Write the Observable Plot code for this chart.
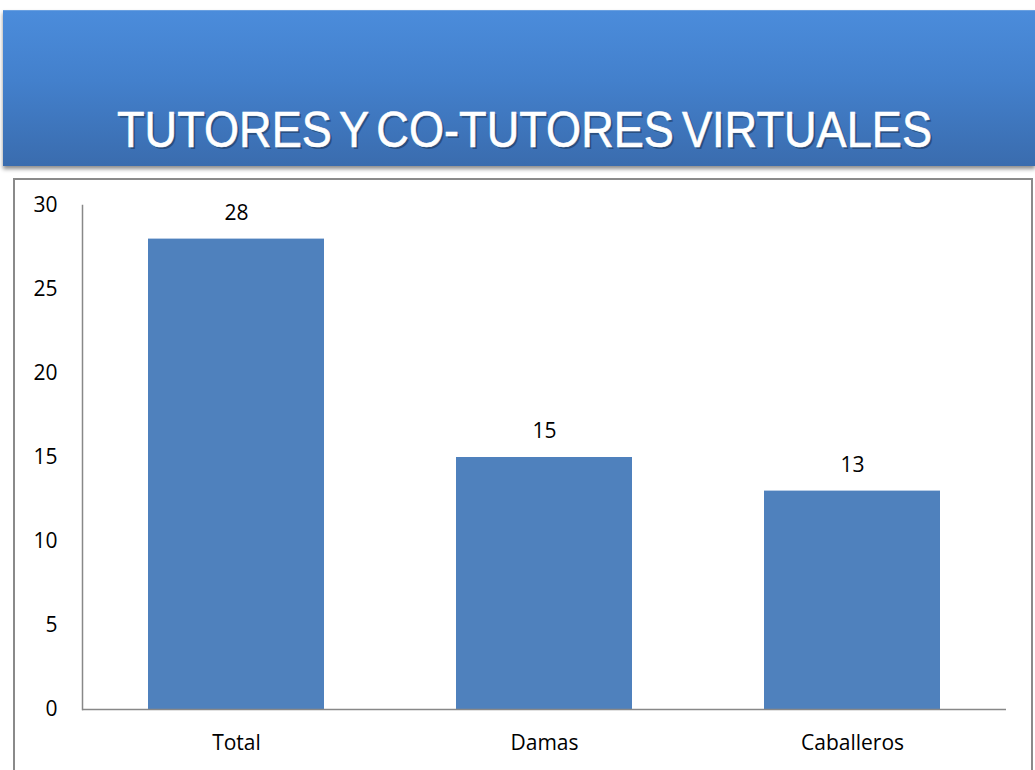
<!DOCTYPE html>
<html>
<head>
<meta charset="utf-8">
<script src="https://cdn.jsdelivr.net/npm/d3@7"></script>
<script src="https://cdn.jsdelivr.net/npm/@observablehq/plot@0.6"></script>
<style>
  html, body { margin: 0; padding: 0; background: #fff; width: 1035px; height: 770px; overflow: hidden; }
  #banner { position: absolute; left: 3px; top: 10px; width: 1032px; height: 155px;
    background: linear-gradient(to bottom, #4b8cdb 0%, #4380cc 45%, #3a6cae 100%);
    box-shadow: 0 3px 4px rgba(0,0,0,0.45); border-top: 1px solid #6aa0e0; }
  #banner svg { position: absolute; left: 0; top: 0; }
  #panel { position: absolute; left: 13px; top: 178px; width: 1020px; height: 600px;
    border: 2px solid #8a8a8a; box-sizing: border-box; background: #fff; }
  #chart { position: absolute; left: 0; top: 178px; }
</style>
</head>
<body>
<div id="banner">
  <svg width="1032" height="155">
    <text x="114" y="136" font-family="'Liberation Sans Narrow', 'Liberation Sans', Arial, sans-serif"
      font-size="50" word-spacing="-5" fill="#000" opacity="0.3" textLength="815" lengthAdjust="spacingAndGlyphs" transform="translate(2,2)">TUTORES Y CO-TUTORES VIRTUALES</text>
    <text x="114" y="136" font-family="'Liberation Sans Narrow', 'Liberation Sans', Arial, sans-serif"
      font-size="50" word-spacing="-5" fill="#fff" stroke="#fff" stroke-width="0.6" textLength="815" lengthAdjust="spacingAndGlyphs">TUTORES Y CO-TUTORES VIRTUALES</text>
  </svg>
</div>
<div id="panel"></div>
<div id="chart"></div>
<script>
const categories = ["Total", "Damas", "Caballeros"];
const values = [28, 15, 13];
const yTicks = [0, 5, 10, 15, 20, 25, 30];

const data = categories.map((c, i) => ({category: c, value: values[i]}));

const plot = Plot.plot({
  width: 1035,
  height: 592,
  marginLeft: 82,
  marginRight: 29,
  marginTop: 27,
  marginBottom: 61,
  style: {background: "transparent", fontFamily: "'Open Sans', 'Noto Sans', sans-serif", fontSize: "21px", color: "#000"},
  x: {domain: categories, paddingInner: 0.4286, paddingOuter: 0.2143, label: null},
  y: {domain: [0, 30], label: null},
  marks: [
    Plot.barY(data, {x: "category", y: "value", fill: "#4f81bd"}),
    Plot.ruleY([0], {stroke: "#888", strokeWidth: 1.5}),
    Plot.frame({anchor: "left", stroke: "#888", strokeWidth: 1.5}),
    Plot.axisY({ticks: yTicks, tickSize: 0, tickPadding: 25, fontSize: 21, label: null}),
    Plot.axisX({tickSize: 0, tickPadding: 26, fontSize: 21, label: null}),
    Plot.text(data, {x: "category", y: "value", text: d => String(d.value), dy: -26, fontSize: 21, fill: "#000"})
  ]
});
document.getElementById("chart").appendChild(plot);
</script>
</body>
</html>
